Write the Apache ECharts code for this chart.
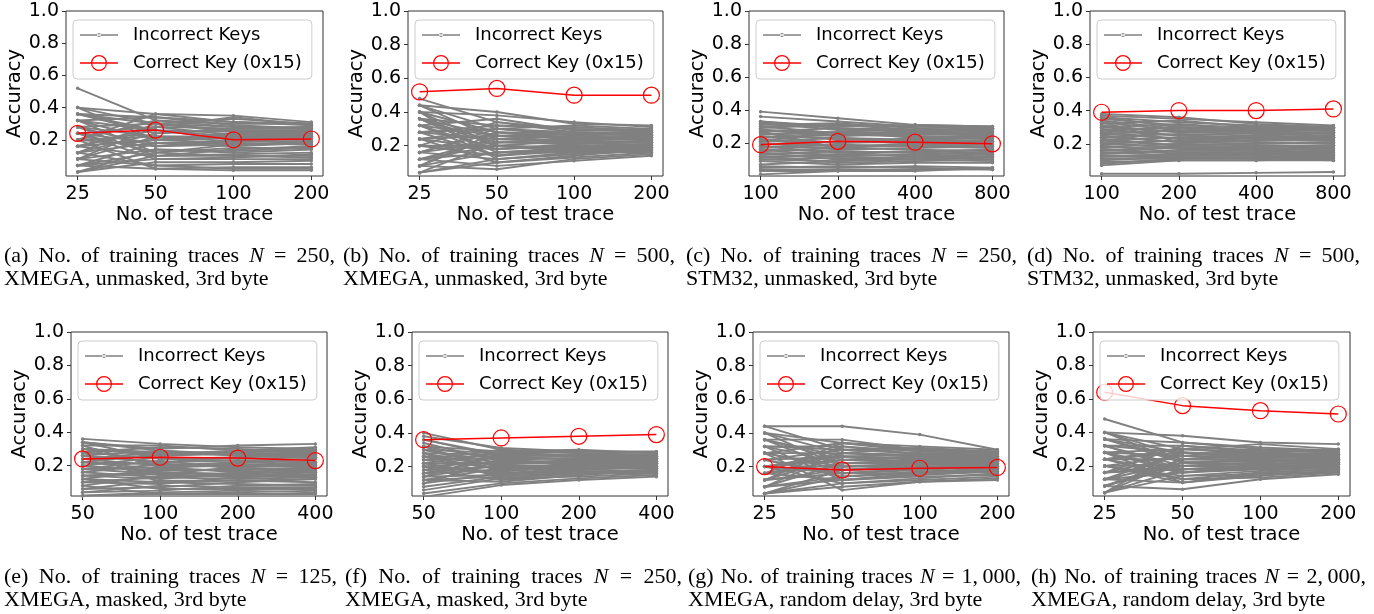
<!DOCTYPE html>
<html>
<head>
<meta charset="utf-8">
<script src="https://cdn.jsdelivr.net/npm/echarts@6/dist/echarts.min.js"></script>
<style>
html,body{margin:0;padding:0;background:#fff;}
#chart{width:1374px;height:614px;}
</style>
</head>
<body>
<div id="chart"></div>
<script>
// ---------------- DATA ----------------
const xTicksA = ['25', '50', '100', '200'];
const xTicksB = ['25', '50', '100', '200'];
const xTicksC = ['100', '200', '400', '800'];
const xTicksD = ['100', '200', '400', '800'];
const xTicksE = ['50', '100', '200', '400'];
const xTicksF = ['50', '100', '200', '400'];
const xTicksG = ['25', '50', '100', '200'];
const xTicksH = ['25', '50', '100', '200'];

const yTickValues = [0.2, 0.4, 0.6, 0.8, 1.0];

const correctA = [0.24, 0.26, 0.20, 0.205];
const correctB = [0.52, 0.54, 0.50, 0.50];
const correctC = [0.19, 0.21, 0.205, 0.195];
const correctD = [0.39, 0.40, 0.40, 0.41];
const correctE = [0.24, 0.25, 0.245, 0.23];
const correctF = [0.36, 0.37, 0.38, 0.39];
const correctG = [0.20, 0.18, 0.19, 0.195];
const correctH = [0.64, 0.56, 0.53, 0.51];

const incorrectA = [
 [0.52,0.32,0.30,0.30],[0.40,0.36,0.35,0.31],[0.40,0.30,0.33,0.30],[0.36,0.34,0.31,0.29],
 [0.36,0.24,0.27,0.28],[0.32,0.34,0.29,0.27],[0.32,0.20,0.24,0.25],[0.28,0.30,0.26,0.26],
 [0.28,0.16,0.20,0.22],[0.24,0.28,0.23,0.24],[0.24,0.12,0.17,0.19],[0.20,0.32,0.28,0.27],
 [0.20,0.22,0.19,0.21],[0.16,0.26,0.22,0.23],[0.16,0.10,0.14,0.16],[0.12,0.30,0.25,0.25],
 [0.12,0.18,0.16,0.18],[0.08,0.22,0.21,0.20],[0.08,0.14,0.12,0.14],[0.04,0.18,0.18,0.17],
 [0.04,0.08,0.09,0.11],[0.00,0.14,0.13,0.15],[0.00,0.06,0.06,0.07],[0.12,0.04,0.05,0.05],
 [0.20,0.02,0.03,0.03],[0.28,0.10,0.11,0.12],[0.36,0.26,0.20,0.20],[0.08,0.04,0.02,0.02],
 [0.04,0.02,0.01,0.01],[0.32,0.12,0.10,0.09],[0.16,0.28,0.34,0.29],[0.24,0.08,0.08,0.08],
 [0.36,0.30,0.28,0.27],[0.32,0.26,0.25,0.23],[0.28,0.22,0.22,0.22],[0.24,0.18,0.19,0.19],
 [0.20,0.16,0.17,0.18],[0.16,0.20,0.21,0.22],[0.12,0.24,0.26,0.26],[0.08,0.28,0.27,0.28],
 [0.04,0.12,0.15,0.15],[0.00,0.10,0.10,0.10],[0.40,0.20,0.18,0.17],[0.20,0.36,0.31,0.30]
];
const incorrectB = [
 [0.48,0.34,0.30,0.28],[0.44,0.40,0.33,0.32],[0.40,0.38,0.34,0.31],[0.40,0.28,0.27,0.26],
 [0.36,0.32,0.31,0.29],[0.36,0.22,0.22,0.23],[0.32,0.36,0.29,0.30],[0.32,0.18,0.20,0.21],
 [0.28,0.30,0.26,0.27],[0.28,0.14,0.17,0.19],[0.24,0.26,0.24,0.25],[0.24,0.10,0.13,0.16],
 [0.20,0.34,0.28,0.28],[0.20,0.20,0.19,0.20],[0.16,0.28,0.25,0.24],[0.16,0.12,0.15,0.17],
 [0.12,0.24,0.23,0.22],[0.12,0.08,0.11,0.14],[0.08,0.16,0.18,0.19],[0.08,0.06,0.12,0.15],
 [0.04,0.22,0.21,0.22],[0.04,0.10,0.14,0.18],[0.44,0.24,0.26,0.24],[0.36,0.16,0.16,0.18],
 [0.28,0.32,0.30,0.29],[0.20,0.14,0.19,0.21],[0.32,0.26,0.22,0.20],[0.16,0.30,0.32,0.30],
 [0.24,0.18,0.21,0.23],[0.12,0.20,0.17,0.16],[0.40,0.12,0.15,0.17],[0.08,0.28,0.24,0.26],
 [0.44,0.30,0.28,0.27],[0.40,0.20,0.23,0.24],[0.36,0.26,0.25,0.25],[0.32,0.14,0.18,0.20],
 [0.28,0.24,0.22,0.22],[0.24,0.30,0.27,0.26],[0.20,0.18,0.20,0.19],[0.16,0.22,0.24,0.24],
 [0.12,0.16,0.19,0.20],[0.08,0.26,0.27,0.27],[0.04,0.12,0.16,0.18],[0.36,0.20,0.18,0.17]
];
const incorrectC = [
 [0.39,0.35,0.31,0.30],[0.36,0.33,0.30,0.29],[0.33,0.30,0.31,0.30],[0.32,0.28,0.27,0.28],
 [0.31,0.32,0.29,0.27],[0.30,0.26,0.25,0.26],[0.29,0.31,0.30,0.29],[0.28,0.24,0.26,0.25],
 [0.27,0.29,0.28,0.28],[0.26,0.22,0.22,0.23],[0.25,0.27,0.26,0.27],[0.24,0.20,0.21,0.22],
 [0.23,0.25,0.24,0.24],[0.22,0.18,0.19,0.20],[0.21,0.23,0.22,0.21],[0.20,0.16,0.17,0.18],
 [0.19,0.21,0.20,0.19],[0.18,0.14,0.15,0.16],[0.17,0.19,0.18,0.17],[0.16,0.12,0.13,0.14],
 [0.15,0.17,0.16,0.15],[0.14,0.10,0.11,0.12],[0.13,0.15,0.14,0.13],[0.12,0.08,0.09,0.10],
 [0.11,0.13,0.12,0.11],[0.10,0.11,0.10,0.09],[0.09,0.07,0.08,0.08],[0.07,0.09,0.10,0.11],
 [0.06,0.05,0.06,0.05],[0.05,0.06,0.05,0.04],[0.04,0.04,0.04,0.04],[0.03,0.03,0.03,0.05],
 [0.01,0.03,0.04,0.04],[0.21,0.27,0.23,0.25],[0.27,0.17,0.19,0.21],
 [0.33,0.29,0.27,0.26],[0.30,0.31,0.28,0.29],[0.28,0.26,0.24,0.24],[0.26,0.25,0.27,0.26],
 [0.24,0.23,0.21,0.20],[0.22,0.20,0.23,0.23],[0.20,0.18,0.18,0.19],[0.18,0.17,0.20,0.21],
 [0.16,0.15,0.14,0.16],[0.14,0.13,0.15,0.14],[0.12,0.12,0.10,0.12],[0.10,0.09,0.12,0.13]
];
const incorrectD = [
 [0.38,0.36,0.32,0.30],[0.37,0.35,0.33,0.31],[0.36,0.33,0.31,0.30],[0.35,0.31,0.30,0.29],
 [0.34,0.29,0.28,0.28],[0.32,0.34,0.30,0.30],[0.31,0.27,0.26,0.27],[0.30,0.32,0.29,0.28],
 [0.29,0.25,0.24,0.25],[0.28,0.30,0.28,0.29],[0.27,0.23,0.22,0.23],[0.26,0.28,0.27,0.26],
 [0.25,0.21,0.20,0.21],[0.24,0.26,0.25,0.24],[0.23,0.19,0.18,0.19],[0.22,0.24,0.23,0.22],
 [0.21,0.17,0.17,0.18],[0.20,0.22,0.21,0.20],[0.19,0.15,0.15,0.16],[0.18,0.20,0.19,0.19],
 [0.17,0.14,0.14,0.15],[0.16,0.18,0.17,0.17],[0.15,0.13,0.13,0.14],[0.14,0.16,0.16,0.15],
 [0.13,0.12,0.12,0.13],[0.12,0.14,0.14,0.12],[0.11,0.11,0.11,0.11],[0.10,0.12,0.11,0.10],
 [0.09,0.10,0.10,0.11],[0.08,0.11,0.12,0.12],[0.07,0.10,0.10,0.10],[0.02,0.02,0.025,0.03],
 [0.33,0.21,0.22,0.24],[0.20,0.30,0.26,0.25],
 [0.36,0.30,0.29,0.29],[0.33,0.28,0.27,0.27],[0.30,0.27,0.28,0.26],[0.28,0.25,0.23,0.24],
 [0.26,0.23,0.24,0.23],[0.24,0.21,0.22,0.22],[0.22,0.19,0.20,0.21],[0.20,0.18,0.18,0.19],
 [0.18,0.17,0.16,0.17],[0.16,0.15,0.15,0.14],[0.13,0.13,0.14,0.15],[0.11,0.12,0.12,0.13]
];
const incorrectE = [
 [0.36,0.33,0.31,0.30],[0.34,0.30,0.32,0.33],[0.32,0.32,0.29,0.31],[0.30,0.26,0.28,0.29],
 [0.28,0.31,0.30,0.28],[0.26,0.22,0.25,0.27],[0.24,0.28,0.27,0.26],[0.22,0.18,0.22,0.24],
 [0.20,0.25,0.24,0.25],[0.18,0.15,0.19,0.21],[0.16,0.21,0.20,0.22],[0.14,0.12,0.16,0.18],
 [0.12,0.18,0.17,0.19],[0.10,0.09,0.13,0.15],[0.08,0.14,0.14,0.16],[0.06,0.07,0.10,0.12],
 [0.04,0.05,0.08,0.09],[0.02,0.03,0.04,0.05],[0.34,0.24,0.23,0.22],[0.30,0.20,0.21,0.20],
 [0.26,0.29,0.26,0.25],[0.22,0.27,0.29,0.30],[0.18,0.23,0.18,0.17],[0.14,0.16,0.15,0.14],
 [0.10,0.13,0.12,0.13],[0.06,0.11,0.11,0.10],[0.04,0.08,0.07,0.07],[0.02,0.04,0.05,0.04],
 [0.32,0.19,0.20,0.19],[0.28,0.10,0.09,0.08],[0.12,0.06,0.06,0.06],[0.08,0.03,0.03,0.03],
 [0.20,0.16,0.14,0.13],[0.24,0.26,0.27,0.28],
 [0.34,0.29,0.27,0.27],[0.30,0.28,0.26,0.25],[0.28,0.24,0.25,0.26],[0.26,0.22,0.23,0.24],
 [0.24,0.20,0.22,0.21],[0.22,0.21,0.19,0.20],[0.20,0.17,0.18,0.18],[0.18,0.19,0.16,0.16],
 [0.16,0.13,0.15,0.17],[0.14,0.15,0.13,0.14],[0.12,0.10,0.11,0.12],[0.30,0.27,0.28,0.29]
];
const incorrectF = [
 [0.40,0.30,0.28,0.27],[0.38,0.31,0.29,0.29],[0.36,0.26,0.27,0.26],[0.32,0.29,0.30,0.28],
 [0.30,0.22,0.24,0.25],[0.28,0.27,0.26,0.27],[0.26,0.18,0.21,0.23],[0.24,0.25,0.25,0.24],
 [0.22,0.15,0.18,0.20],[0.20,0.23,0.22,0.22],[0.18,0.12,0.15,0.18],[0.16,0.21,0.20,0.21],
 [0.14,0.28,0.26,0.25],[0.12,0.19,0.19,0.19],[0.10,0.16,0.17,0.17],[0.08,0.14,0.16,0.16],
 [0.04,0.10,0.13,0.15],[0.02,0.09,0.12,0.14],[0.30,0.20,0.19,0.20],[0.28,0.13,0.14,0.16],
 [0.24,0.30,0.28,0.26],[0.20,0.17,0.23,0.23],[0.16,0.24,0.21,0.19],[0.12,0.11,0.15,0.18],
 [0.26,0.21,0.17,0.18],[0.22,0.28,0.29,0.28],[0.18,0.26,0.24,0.22],[0.14,0.15,0.18,0.21],
 [0.10,0.24,0.22,0.20],[0.32,0.17,0.20,0.23],[0.06,0.13,0.16,0.17],[0.34,0.23,0.23,0.24],
 [0.36,0.27,0.26,0.25],[0.32,0.24,0.25,0.26],[0.30,0.28,0.27,0.27],[0.28,0.20,0.21,0.22],
 [0.26,0.26,0.24,0.23],[0.24,0.19,0.20,0.21],[0.22,0.22,0.22,0.23],[0.20,0.16,0.19,0.19],
 [0.18,0.20,0.18,0.20],[0.16,0.18,0.21,0.22],[0.14,0.21,0.24,0.25],[0.12,0.14,0.17,0.18]
];
const incorrectG = [
 [0.44,0.44,0.39,0.30],[0.40,0.34,0.32,0.30],[0.44,0.30,0.31,0.29],[0.36,0.36,0.30,0.28],
 [0.36,0.26,0.27,0.27],[0.32,0.32,0.29,0.29],[0.32,0.22,0.24,0.25],[0.28,0.28,0.26,0.26],
 [0.28,0.18,0.21,0.23],[0.24,0.30,0.28,0.27],[0.24,0.14,0.17,0.19],[0.20,0.24,0.23,0.24],
 [0.20,0.10,0.13,0.16],[0.16,0.34,0.30,0.28],[0.16,0.20,0.20,0.21],[0.12,0.26,0.25,0.25],
 [0.12,0.16,0.18,0.20],[0.08,0.22,0.22,0.22],[0.08,0.12,0.15,0.17],[0.04,0.18,0.19,0.20],
 [0.04,0.08,0.11,0.12],[0.40,0.20,0.21,0.22],[0.28,0.06,0.11,0.13],[0.12,0.32,0.27,0.26],
 [0.20,0.28,0.31,0.28],[0.24,0.16,0.16,0.18],[0.32,0.12,0.14,0.15],[0.16,0.24,0.25,0.23],
 [0.08,0.14,0.17,0.18],[0.36,0.18,0.20,0.19],[0.04,0.10,0.12,0.14],[0.20,0.26,0.22,0.21],
 [0.40,0.28,0.27,0.26],[0.36,0.24,0.26,0.25],[0.32,0.30,0.28,0.27],[0.28,0.20,0.22,0.23],
 [0.24,0.26,0.24,0.24],[0.20,0.16,0.19,0.21],[0.16,0.22,0.23,0.23],[0.12,0.18,0.20,0.20],
 [0.08,0.28,0.26,0.25],[0.04,0.14,0.16,0.17],[0.28,0.34,0.29,0.28],[0.16,0.12,0.16,0.18]
];
const incorrectH = [
 [0.48,0.34,0.30,0.28],[0.40,0.38,0.34,0.33],[0.40,0.30,0.33,0.30],[0.36,0.34,0.31,0.29],
 [0.36,0.24,0.26,0.27],[0.32,0.32,0.29,0.28],[0.32,0.20,0.22,0.24],[0.28,0.30,0.27,0.27],
 [0.28,0.16,0.19,0.21],[0.24,0.28,0.25,0.25],[0.24,0.12,0.16,0.18],[0.20,0.26,0.24,0.23],
 [0.20,0.14,0.17,0.19],[0.16,0.32,0.28,0.26],[0.16,0.18,0.20,0.21],[0.12,0.22,0.21,0.22],
 [0.12,0.10,0.14,0.17],[0.08,0.20,0.19,0.20],[0.08,0.06,0.12,0.15],[0.04,0.24,0.23,0.24],
 [0.04,0.14,0.15,0.16],[0.40,0.22,0.20,0.19],[0.28,0.26,0.30,0.29],[0.20,0.12,0.13,0.16],
 [0.32,0.18,0.18,0.20],[0.12,0.28,0.26,0.25],[0.24,0.16,0.21,0.23],[0.36,0.28,0.24,0.22],
 [0.16,0.20,0.22,0.26],[0.08,0.24,0.27,0.24],[0.28,0.10,0.15,0.17],[0.04,0.30,0.28,0.30],
 [0.40,0.26,0.25,0.25],[0.36,0.22,0.23,0.23],[0.32,0.28,0.27,0.26],[0.28,0.18,0.20,0.21],
 [0.24,0.24,0.24,0.24],[0.20,0.20,0.21,0.22],[0.16,0.26,0.25,0.26],[0.12,0.16,0.18,0.19],
 [0.08,0.22,0.23,0.22],[0.04,0.18,0.19,0.20],[0.24,0.30,0.28,0.27],[0.20,0.10,0.16,0.18]
];

const captionLine1 = [
 '(a) No. of training traces N = 250,',
 '(b) No. of training traces N = 500,',
 '(c) No. of training traces N = 250,',
 '(d) No. of training traces N = 500,',
 '(e) No. of training traces N = 125,',
 '(f) No. of training traces N = 250,',
 '(g) No. of training traces N = 1,\u2009000,',
 '(h) No. of training traces N = 2,\u2009000,'
];
const captionLine2 = [
 'XMEGA, unmasked, 3rd byte',
 'XMEGA, unmasked, 3rd byte',
 'STM32, unmasked, 3rd byte',
 'STM32, unmasked, 3rd byte',
 'XMEGA, masked, 3rd byte',
 'XMEGA, masked, 3rd byte',
 'XMEGA, random delay, 3rd byte',
 'XMEGA, random delay, 3rd byte'
];

const seriesNames = ['Incorrect Keys', 'Correct Key (0x15)'];

// ---------------- LAYOUT ----------------
const panelData = [
 {ticks: xTicksA, inc: incorrectA, cor: correctA},
 {ticks: xTicksB, inc: incorrectB, cor: correctB},
 {ticks: xTicksC, inc: incorrectC, cor: correctC},
 {ticks: xTicksD, inc: incorrectD, cor: correctD},
 {ticks: xTicksE, inc: incorrectE, cor: correctE},
 {ticks: xTicksF, inc: incorrectF, cor: correctF},
 {ticks: xTicksG, inc: incorrectG, cor: correctG},
 {ticks: xTicksH, inc: incorrectH, cor: correctH}
];
const yAxisMin = [-0.025, 0.02, 0.0, 0.006, 0.018, 0.025, 0.025, 0.02];
const LAYOUT = [
 {l:66, r:323, t:11, b:176}, {l:408, r:663, t:11, b:176},
 {l:749, r:1004, t:11, b:176}, {l:1090, r:1345, t:11, b:176},
 {l:71, r:327, t:332, b:496}, {l:412, r:668, t:332, b:496},
 {l:753, r:1009, t:332, b:496}, {l:1093, r:1350, t:332, b:496}
];
const CAP = [
 {x:4, w:331, y:256}, {x:343, w:332, y:256}, {x:686, w:331, y:256}, {x:1027, w:333, y:256},
 {x:4, w:333, y:577}, {x:345, w:337, y:577}, {x:688, w:333, y:577}, {x:1031, w:335, y:577}
];

const FONT = 'DejaVu Sans';
const SERIF = '"Liberation Serif", "Times New Roman", serif';
const CAP_SIZE = 22;
const TICK_SIZE = 19;
const NAME_SIZE = 19.5;
const GREY = '#808080';
const RED = '#ff0000';
const GREY_ICON = 'path://M0,1.25L38,1.25L38,2.75L0,2.75Z M17,2A2,2 0 1,0 21,2A2,2 0 1,0 17,2Z';
const RED_ICON = 'path://M0,7.25L38,7.25L38,8.75L0,8.75Z M11,8A8,8 0 1,1 27,8A8,8 0 1,1 11,8Z M12.2,8A6.8,6.8 0 1,0 25.8,8A6.8,6.8 0 1,0 12.2,8Z';

const grids = [], xAxes = [], yAxes = [], series = [], legends = [], graphics = [];

panelData.forEach((p, i) => {
  const L = LAYOUT[i];
  grids.push({
    left: L.l, top: L.t, width: L.r - L.l, height: L.b - L.t,
    show: true, borderColor: '#333', borderWidth: 1, backgroundColor: 'transparent'
  });
  const ticks = p.ticks;
  xAxes.push({
    gridIndex: i, type: 'value', min: -0.15, max: 3.15,
    axisLine: {show: false, onZero: false},
    axisTick: {show: true, length: 4, customValues: [0, 1, 2, 3], lineStyle: {color: '#333', width: 1}},
    axisLabel: {customValues: [0, 1, 2, 3], formatter: v => ticks[Math.round(v)], fontSize: TICK_SIZE, color: '#000', fontFamily: FONT, margin: 9},
    splitLine: {show: false},
    name: 'No. of test trace', nameLocation: 'middle', nameGap: 29,
    nameTextStyle: {fontSize: NAME_SIZE, color: '#000', fontFamily: FONT}
  });
  yAxes.push({
    gridIndex: i, type: 'value', min: yAxisMin[i], max: 1,
    axisLine: {show: false, onZero: false},
    axisTick: {show: true, length: 4, customValues: yTickValues, lineStyle: {color: '#333', width: 1}},
    axisLabel: {customValues: yTickValues, formatter: v => v.toFixed(1), fontSize: TICK_SIZE, color: '#000', fontFamily: FONT, margin: 7},
    splitLine: {show: false},
    name: 'Accuracy', nameLocation: 'middle', nameGap: 37, nameRotate: 90,
    nameTextStyle: {fontSize: NAME_SIZE, color: '#000', fontFamily: FONT}
  });
  p.inc.forEach(line => {
    series.push({
      type: 'line', name: seriesNames[0], xAxisIndex: i, yAxisIndex: i,
      data: line.map((v, j) => [j, v]),
      symbol: 'circle', symbolSize: 3.5, showAllSymbol: true,
      lineStyle: {color: GREY, width: 1.9}, itemStyle: {color: GREY},
      silent: true, animation: false, z: 2
    });
  });
  series.push({
    type: 'line', name: seriesNames[1], xAxisIndex: i, yAxisIndex: i,
    data: p.cor.map((v, j) => [j, v]),
    symbol: 'circle', symbolSize: 16, showAllSymbol: true,
    lineStyle: {color: RED, width: 1.5},
    itemStyle: {color: 'rgba(0,0,0,0)', borderColor: RED, borderWidth: 1.2},
    silent: true, animation: false, z: 5
  });
  legends.push({
    left: L.l + 7, top: L.t + 9, orient: 'vertical',
    itemWidth: 38, itemHeight: 16, itemGap: 8, padding: [5, 10, 6, 7],
    backgroundColor: 'rgba(255,255,255,0.8)', borderColor: '#cccccc', borderWidth: 1, borderRadius: 4,
    symbolKeepAspect: true, selectedMode: false, z: 10,
    textStyle: {fontSize: 18, color: '#000', fontFamily: FONT, padding: [0, 0, 0, 10], lineHeight: 20},
    data: [
      {name: seriesNames[0], icon: GREY_ICON, itemStyle: {color: GREY, borderWidth: 0}},
      {name: seriesNames[1], icon: RED_ICON, itemStyle: {color: RED, borderWidth: 0}}
    ]
  });
});

// captions (justified first line)
const cnv = document.createElement('canvas');
const ctx = cnv.getContext('2d');
function measure(text, italic) {
  ctx.font = (italic ? 'italic ' : '') + CAP_SIZE + 'px ' + SERIF;
  return ctx.measureText(text).width;
}
captionLine1.forEach((txt, i) => {
  const C = CAP[i];
  const toks = txt.split(' ');
  const widths = toks.map(t => measure(t, t === 'N'));
  const total = widths.reduce((a, b) => a + b, 0);
  let gap = (C.w - total) / (toks.length - 1);
  const minGap = measure(' ', false);
  if (gap < minGap) gap = minGap;
  let x = C.x;
  toks.forEach((t, k) => {
    graphics.push({
      type: 'text', x: x, y: C.y, silent: true,
      style: {text: t, fill: '#000', font: (t === 'N' ? 'italic ' : '') + CAP_SIZE + 'px ' + SERIF, verticalAlign: 'middle', align: 'left'}
    });
    x += widths[k] + gap;
  });
  graphics.push({
    type: 'text', x: C.x, y: C.y + 23, silent: true,
    style: {text: captionLine2[i], fill: '#000', font: CAP_SIZE + 'px ' + SERIF, verticalAlign: 'middle', align: 'left'}
  });
});

const chart = echarts.init(document.getElementById('chart'), null, {renderer: 'canvas'});
chart.setOption({
  backgroundColor: '#fff',
  animation: false,
  grid: grids, xAxis: xAxes, yAxis: yAxes, series: series, legend: legends,
  graphic: graphics
});
</script>
</body>
</html>
